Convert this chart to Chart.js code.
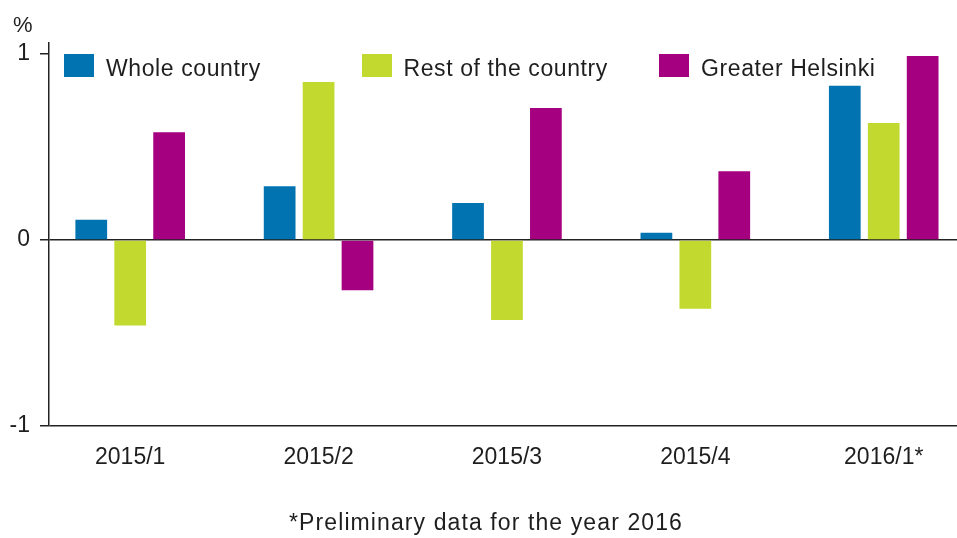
<!DOCTYPE html>
<html>
<head>
<meta charset="utf-8">
<script src="https://cdn.jsdelivr.net/npm/chart.js@4.4.1/dist/chart.umd.min.js"></script>
<style>
html,body{margin:0;padding:0;background:#fff;overflow:hidden}
#wrap{position:relative;width:957px;height:538px;background:#fff}
#c{position:absolute;left:0;top:0}
.txt{position:absolute;font-family:"Liberation Sans",Arial,sans-serif;color:#1e1e1e;white-space:nowrap}
.lg{position:absolute;top:54px;height:24px}
.lg .box{position:absolute;left:0;top:0;width:30px;height:23px}
.lg .lab{position:absolute;left:42px;top:2.5px;font-size:23px;line-height:23px;letter-spacing:0.6px}
</style>
</head>
<body>
<div id="wrap">
  <canvas id="c" width="957" height="538"></canvas>
  <div class="txt" id="unit" style="left:13px;top:14px;font-size:22px;line-height:22px">%</div>
  <div id="legend"></div>
  <div class="txt" id="note" style="left:486px;top:511px;transform:translateX(-50%);font-size:23px;line-height:23px;letter-spacing:1.1px">*Preliminary data for the year 2016</div>
</div>
<script>
const categories = ['2015/1', '2015/2', '2015/3', '2015/4', '2016/1*'];
const wholeCountry = [0.11, 0.29, 0.20, 0.04, 0.83];
const restOfCountry = [-0.46, 0.85, -0.43, -0.37, 0.63];
const greaterHelsinki = [0.58, -0.27, 0.71, 0.37, 0.99];
const yTicks = [-1, 0, 1];
const seriesNames = ['Whole country', 'Rest of the country', 'Greater Helsinki'];
const seriesColors = ['#0073b0', '#c2d92f', '#a5007f'];

const FONT = '"Liberation Sans", Arial, sans-serif';
const TEXT = '#1e1e1e';
const LINE = '#222';
const toPoints = arr => arr.map((v, i) => ({ x: i, y: v }));
const seriesValues = [wholeCountry, restOfCountry, greaterHelsinki];

const datasets = seriesValues.map((vals, k) => ({
  label: seriesNames[k],
  data: toPoints(vals),
  backgroundColor: seriesColors[k],
  borderWidth: 0,
  categoryPercentage: 0.62,
  barPercentage: 0.815
}));

const chart = new Chart(document.getElementById('c'), {
  type: 'bar',
  data: { datasets },
  options: {
    responsive: false,
    animation: false,
    events: [],
    layout: { padding: { left: 0, right: 0, top: 43, bottom: 72 } },
    plugins: { legend: { display: false }, tooltip: { enabled: false } },
    scales: {
      x: {
        type: 'linear',
        min: -0.431,
        max: 4.389,
        offset: false,
        grid: { display: false, drawTicks: false },
        border: { display: false },
        afterBuildTicks: s => { s.ticks = categories.map((c, i) => ({ value: i })); },
        afterFit: s => { s.height = 40; },
        ticks: {
          autoSkip: false, maxRotation: 0, minRotation: 0, padding: 18,
          color: TEXT, font: { family: FONT, size: 23 },
          callback: v => (categories[v] !== undefined ? categories[v] : '')
        }
      },
      y: {
        min: -1,
        max: 1.06,
        z: 1,
        afterBuildTicks: s => { s.ticks = yTicks.map(v => ({ value: v })); },
        afterFit: s => { s.width = 49; },
        grid: {
          color: c => (c.tick && c.tick.value <= 0) ? LINE : 'rgba(0,0,0,0)',
          lineWidth: 1.5,
          drawTicks: true,
          tickLength: 9,
          tickColor: LINE,
          tickWidth: 1.5
        },
        border: { display: true, color: LINE, width: 1.5 },
        ticks: {
          padding: 10, color: TEXT, font: { family: FONT, size: 23 },
          callback: v => String(v)
        }
      }
    }
  }
});

// HTML legend built from the chart's datasets, in equal-width columns
const legend = document.getElementById('legend');
chart.data.datasets.forEach((ds, i) => {
  const item = document.createElement('div');
  item.className = 'lg';
  item.style.left = (64 + i * 297.5) + 'px';
  const box = document.createElement('div');
  box.className = 'box';
  box.style.background = ds.backgroundColor;
  const lab = document.createElement('div');
  lab.className = 'lab txt';
  lab.textContent = ds.label;
  item.appendChild(box);
  item.appendChild(lab);
  legend.appendChild(item);
});
</script>
</body>
</html>
